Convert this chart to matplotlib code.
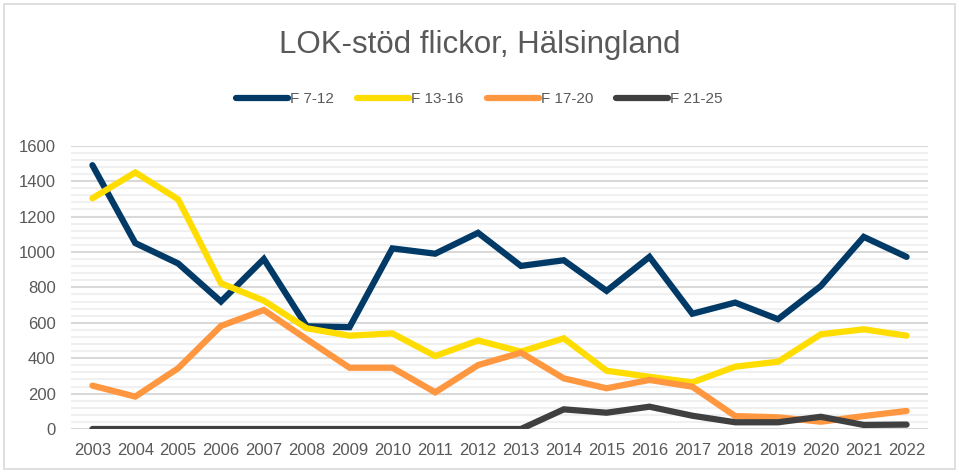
import matplotlib
matplotlib.use("Agg")
import matplotlib.pyplot as plt
from matplotlib.ticker import MultipleLocator
from matplotlib.patches import Rectangle

plt.rcParams['font.family'] = ['Liberation Sans', 'DejaVu Sans']

years = list(range(2003, 2023))
f_7_12 = [1490, 1050, 935, 720, 960, 580, 575, 1020, 990, 1108, 921, 953, 780, 972, 651, 714, 620, 808, 1085, 972]
f_13_16 = [1303, 1449, 1297, 823, 725, 569, 527, 540, 412, 500, 437, 512, 329, 295, 263, 352, 380, 535, 563, 527]
f_17_20 = [245, 183, 343, 582, 672, 507, 346, 346, 207, 361, 431, 286, 230, 277, 239, 73, 66, 41, 73, 102]
f_21_25 = [0, 0, 0, 0, 0, 0, 0, 0, 0, 0, 0, 111, 92, 126, 75, 38, 38, 69, 23, 25]
series_names = ["F 7-12", "F 13-16", "F 17-20", "F 21-25"]
colors = ["#013A66", "#FFDD00", "#FF9640", "#404040"]

W, H = 959, 473
fig = plt.figure(figsize=(W / 100, H / 100), dpi=100)
ax = fig.add_axes([71 / W, 1 - 429 / H, (928 - 71) / W, (429 - 145.7) / H])

for vals, name, c in zip([f_7_12, f_13_16, f_17_20, f_21_25], series_names, colors):
    ax.plot(years, vals, color=c, lw=4.5, label=name, solid_capstyle='round',
            solid_joinstyle='miter', zorder=3)

ax.set_ylim(0, 1600)
ax.set_xlim(years[0] - 0.5, years[-1] + 0.5)
ax.yaxis.set_major_locator(MultipleLocator(200))
ax.yaxis.set_minor_locator(MultipleLocator(40))
ax.set_xticks(years)
ax.grid(axis='y', which='major', color='#D9D9D9', lw=1.5, zorder=0)
ax.grid(axis='y', which='minor', color='#F0F0F0', lw=1.5, zorder=0)
for s in ax.spines.values():
    s.set_visible(False)
ax.tick_params(axis='both', which='both', length=0, labelsize=12, colors='#595959')
ax.tick_params(axis='y', pad=11)
ax.tick_params(axis='x', pad=10)

fig.text(0.5, 1 - 45 / H, "LOK-stöd flickor, Hälsingland", ha='center', va='center',
         fontsize=22.5, color='#595959')

leg = fig.legend(loc='center', bbox_to_anchor=(0.5, 1 - 99 / H), ncol=4, frameon=False,
                 fontsize=11, handlelength=3.4, handletextpad=0.15, columnspacing=1.5,
                 labelcolor='#595959')

fig.patches.append(Rectangle((4 / W, 4 / H), (955 - 4) / W, (469 - 4) / H,
                             transform=fig.transFigure, fill=False, edgecolor='#D9D9D9', lw=1.2))

fig.savefig("out.png", dpi=100)
